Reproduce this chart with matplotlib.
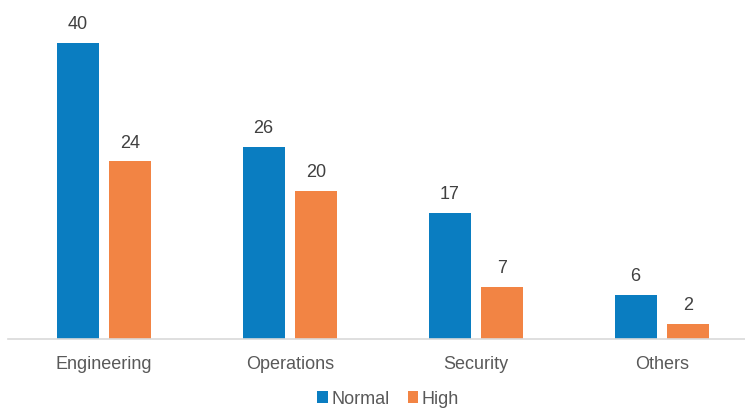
import numpy as np
import matplotlib.pyplot as plt

categories = ['Engineering', 'Operations', 'Security', 'Others']
normal = [40, 26, 17, 6]
high = [24, 20, 7, 2]

plt.rcParams['font.family'] = ['Liberation Sans', 'DejaVu Sans']

blue = '#0A7DC1'
orange = '#F28444'
text_col = '#404040'
tick_col = '#595959'

fig = plt.figure(figsize=(7.45, 4.09), dpi=100)
ax = fig.add_axes([8 / 745, 70 / 409, 737 / 745, 333 / 409])

x = np.arange(len(categories))
w = 0.226
b1 = ax.bar(x - 0.142, normal, w, color=blue, label='Normal')
b2 = ax.bar(x + 0.142, high, w, color=orange, label='High')

for bars in (b1, b2):
    for rect in bars:
        ax.annotate(f'{rect.get_height():.0f}',
                    (rect.get_x() + rect.get_width() / 2, rect.get_height()),
                    xytext=(0, 7), textcoords='offset points',
                    ha='center', va='bottom', fontsize=13, color=text_col)

ax.set_xlim(-96 / 186, 641 / 186)
ax.set_ylim(0, 45)
ax.set_xticks(x)
ax.set_xticklabels(categories, fontsize=13, color=tick_col)
ax.tick_params(axis='x', length=0, pad=12)
ax.set_yticks([])
for s in ['top', 'right', 'left']:
    ax.spines[s].set_visible(False)
ax.spines['bottom'].set_color('#D9D9D9')
ax.spines['bottom'].set_linewidth(1.2)

fig.legend(loc='center', bbox_to_anchor=(388 / 745, 10 / 409), ncol=2,
           frameon=False, fontsize=13, handlelength=0.6, handleheight=0.6,
           handletextpad=0.2, columnspacing=1.0, labelcolor=tick_col,
           borderpad=0.1)

fig.savefig('out.png', dpi=100)
